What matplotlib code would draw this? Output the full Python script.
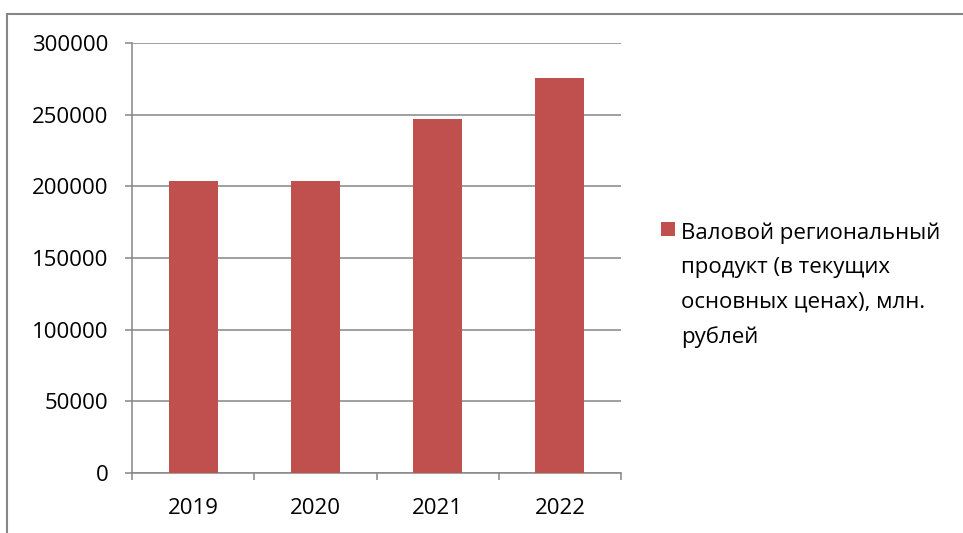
import matplotlib
matplotlib.use("Agg")
import matplotlib.pyplot as plt
from matplotlib.lines import Line2D
from matplotlib.offsetbox import HPacker

years = ["2019", "2020", "2021", "2022"]
grp = [203700, 204000, 246800, 275500]
series_label = "Валовой региональный\nпродукт (в текущих\nосновных ценах), млн.\nрублей"
y_ticks = [0, 50000, 100000, 150000, 200000, 250000, 300000]

BAR = "#C0504D"
GRID = "#868686"

plt.rcParams["font.family"] = ["Open Sans", "DejaVu Sans"]
plt.rcParams["font.size"] = 16

fig = plt.figure(figsize=(9.63, 5.33), dpi=100)
ax = fig.add_axes([132 / 963, 60 / 533, (621 - 132) / 963, (473 - 43) / 533])

x = range(len(years))
ax.bar(x, grp, width=0.4, color=BAR, label=series_label, zorder=3)

ax.set_xlim(-0.5, len(years) - 0.5)
ax.set_ylim(0, 300000)
ax.set_yticks(y_ticks)
ax.set_yticklabels([str(v) for v in y_ticks])
ax.yaxis.grid(True, color=GRID, linewidth=1.1, zorder=0)

ax.set_xticks(list(x))
ax.set_xticklabels(years)
ax.set_xticks([i - 0.5 for i in range(len(years) + 1)], minor=True)
ax.tick_params(axis="x", which="major", length=0, pad=18)
ax.tick_params(axis="x", which="minor", length=5, width=1.1, color=GRID, direction="out")
ax.tick_params(axis="y", length=5, width=1.1, color=GRID, pad=12)

for s in ("top", "right"):
    ax.spines[s].set_visible(False)
for s in ("left", "bottom"):
    ax.spines[s].set_color(GRID)
    ax.spines[s].set_linewidth(1.1)

leg = ax.legend(loc="upper left", bbox_to_anchor=(661 / 963, 1 - 222 / 533),
                bbox_transform=fig.transFigure, frameon=False,
                handlelength=0.62, handleheight=0.62, handletextpad=0.3,
                borderaxespad=0, borderpad=0)
for t in leg.get_texts():
    t.set_linespacing(1.83)
# keep the marker on the first line of the wrapped label
for hp in leg.findobj(HPacker):
    hp.align = "top"

# outer chart frame
fig.add_artist(Line2D([7 / 963, 7 / 963], [0, 1 - 14 / 533], color=GRID, lw=1.5,
                      transform=fig.transFigure))
fig.add_artist(Line2D([7 / 963, 1], [1 - 14 / 533, 1 - 14 / 533], color=GRID, lw=1.5,
                      transform=fig.transFigure))

fig.savefig("out.png", dpi=100)
